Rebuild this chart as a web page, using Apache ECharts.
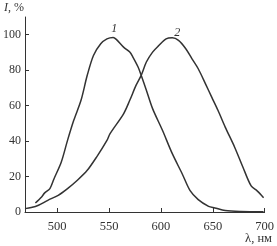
<!DOCTYPE html>
<html><head><meta charset="utf-8">
<script src="https://cdn.jsdelivr.net/npm/echarts@6/dist/echarts.min.js"></script>
<style>html,body{margin:0;padding:0;background:#fff}#c{width:277px;height:246px}</style>
</head><body><div id="c"></div>
<script>
const xTicks = [500, 550, 600, 650, 700];
const yTicks = [0, 20, 40, 60, 80, 100];
const curve1X = [479, 485, 488, 493, 497, 504, 510, 516, 523, 529, 535, 542, 548, 554, 557, 564, 570, 573, 578, 581, 586, 592, 601.5, 611, 620.5, 628, 636, 646, 652, 662, 677, 699];
const curve1Y = [5.1, 8.5, 10.8, 13.2, 18.8, 28.2, 40.4, 51.7, 63.0, 77.1, 88.3, 94.9, 97.7, 98.5, 97.4, 93.0, 90.2, 87.4, 81.8, 77.1, 68.7, 58.3, 46.1, 32.9, 21.6, 12.2, 7.0, 3.2, 2.3, 0.8, 0.3, 0.2];
const curve2X = [469, 475, 482, 491, 501, 510, 519.5, 529, 538, 548, 551, 564, 570, 576, 581, 586, 592, 598, 605, 611, 617, 624, 630, 636, 643, 649, 655, 662, 671, 679, 687, 693, 699];
const curve2Y = [1.9, 2.5, 3.8, 6.6, 9.4, 13.2, 17.9, 23.5, 31.0, 40.4, 44.2, 55.4, 63.0, 71.4, 77.1, 84.6, 90.2, 93.9, 97.7, 98.3, 96.8, 92.1, 86.4, 80.8, 72.3, 64.8, 57.4, 47.9, 36.7, 25.4, 14.7, 11.8, 8.1];
const seriesLabels = ['1', '2'];

const font = "'Liberation Serif', 'DejaVu Serif', serif";
const ink = '#333';
const chart = echarts.init(document.getElementById('c'));
const toPairs = (xs, ys) => xs.map((x, i) => [x, ys[i]]);
const peak = (xs, ys) => { let k = 0; ys.forEach((v, i) => { if (v > ys[k]) k = i; }); return [xs[k], ys[k]]; };
const peakLabel = (text, off) => ({
  symbol: 'circle', symbolSize: 1, itemStyle: { color: 'rgba(0,0,0,0)' },
  data: [{ coord: null }],
  label: { show: true, position: 'top', distance: 0, formatter: text, color: ink, fontFamily: font, fontStyle: 'italic', fontSize: 12, offset: off }
});

const mp1 = peakLabel(seriesLabels[0], [1, -2]); mp1.data[0].coord = peak(curve1X, curve1Y);
const mp2 = peakLabel(seriesLabels[1], [5, 2]); mp2.data[0].coord = peak(curve2X, curve2Y);

chart.setOption({
  animation: false,
  backgroundColor: '#fff',
  grid: { left: 24, top: 17, right: 10, bottom: 34, containLabel: false },
  xAxis: {
    type: 'value', min: 469, max: 700,
    axisLine: { show: true, lineStyle: { color: ink, width: 1 } },
    axisTick: { show: true, inside: true, length: 4, customValues: xTicks, lineStyle: { color: ink } },
    axisLabel: { customValues: xTicks, color: ink, fontFamily: font, fontSize: 12.5, margin: 8 },
    splitLine: { show: false }
  },
  yAxis: {
    type: 'value', min: 0, max: 110,
    axisLine: { show: true, lineStyle: { color: ink, width: 1 } },
    axisTick: { show: true, inside: true, length: 4, customValues: yTicks, lineStyle: { color: ink } },
    axisLabel: { customValues: yTicks, color: ink, fontFamily: font, fontSize: 12, margin: 4 },
    splitLine: { show: false }
  },
  series: [
    { type: 'line', data: toPairs(curve1X, curve1Y), showSymbol: false, smooth: 0.3,
      lineStyle: { color: ink, width: 1.5 }, markPoint: mp1 },
    { type: 'line', data: toPairs(curve2X, curve2Y), showSymbol: false, smooth: 0.3,
      lineStyle: { color: ink, width: 1.5 }, markPoint: mp2 }
  ],
  graphic: [
    { type: 'text', left: 4, top: 2, style: { text: '{i|I}, %', rich: { i: { fontStyle: 'italic', fontFamily: font, fontSize: 12, fill: ink } }, fontFamily: font, fontSize: 12, fill: ink } },
    { type: 'text', right: 5, top: 232, style: { text: 'λ, нм', fontFamily: font, fontSize: 12.5, fill: ink } }
  ]
});
</script></body></html>
